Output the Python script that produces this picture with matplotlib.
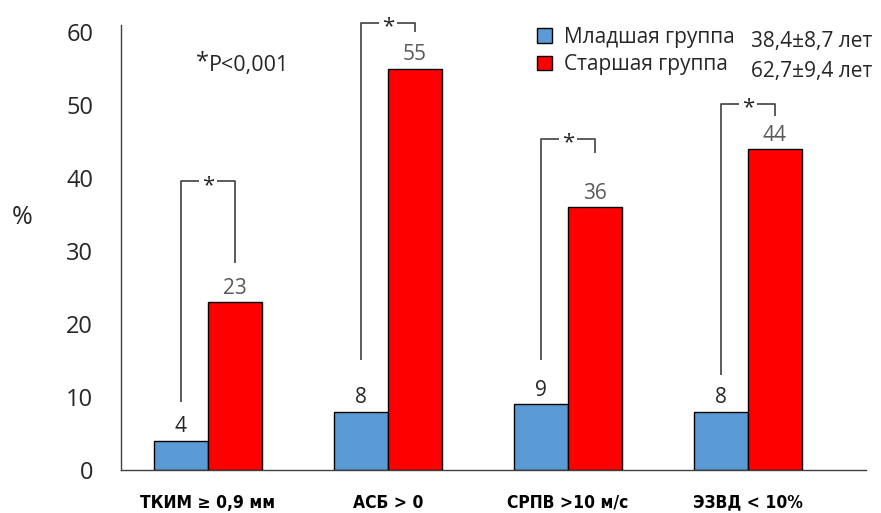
import matplotlib
matplotlib.use("Agg")
import matplotlib.pyplot as plt
import numpy as np

categories = ["ТКИМ ≥ 0,9 мм", "АСБ > 0", "СРПВ >10 м/с", "ЭЗВД < 10%"]
young = [4, 8, 9, 8]
old = [23, 55, 36, 44]
series_names = ["Младшая группа", "Старшая группа"]
ages = ["38,4±8,7 лет", "62,7±9,4 лет"]
yticks = [0, 10, 20, 30, 40, 50, 60]

# significance brackets (annotation layout, in data units)
br_left_bottom = [9.3, 15.1, 15.1, 13.0]
br_top = [39.6, 61.3, 45.4, 50.2]
br_right_bottom = [28.4, 60.0, 43.5, 48.5]

plt.rcParams['font.family'] = ['Open Sans', 'DejaVu Sans']

W, H = 881, 513
fig = plt.figure(figsize=(W / 100, H / 100), dpi=100)
ax = fig.add_axes([121 / W, 1 - 470 / H, (866 - 121) / W, (470 - 25) / H])

x = np.arange(len(categories))
w = 0.3
blue = "#5B9BD5"
red = "#FF0000"
b1 = ax.bar(x - w / 2, young, w, color=blue, edgecolor="black", linewidth=1.0, label=series_names[0])
b2 = ax.bar(x + w / 2, old, w, color=red, edgecolor="black", linewidth=1.0, label=series_names[1])

ax.set_xlim(-0.483, 3.656)
ax.set_ylim(0, 61)

for xi, v in zip(x - w / 2, young):
    ax.annotate(str(v), (xi, v), xytext=(0, 6), textcoords="offset points",
                ha="center", va="baseline", fontsize=15, color="#262626")
for xi, v in zip(x + w / 2, old):
    ax.annotate(str(v), (xi, v), xytext=(0, 6), textcoords="offset points",
                ha="center", va="baseline", fontsize=15, color="#595959")

# brackets
lc = "#404040"
gap = 0.05
for i in range(len(categories)):
    xl = x[i] - w / 2
    xr = x[i] + w / 2
    xm = (xl + xr) / 2
    ax.plot([xl, xl, xm - gap], [br_left_bottom[i], br_top[i], br_top[i]],
            color=lc, lw=1.2, clip_on=False, solid_capstyle="butt")
    ax.plot([xm + gap, xr, xr], [br_top[i], br_top[i], br_right_bottom[i]],
            color=lc, lw=1.2, clip_on=False, solid_capstyle="butt")
    ax.annotate("*", (xm, br_top[i]), xytext=(0, -3), textcoords="offset points",
                ha="center", va="center", fontsize=16, color="#262626",
                annotation_clip=False)

ax.set_xticks(x)
ax.set_xticklabels(categories, fontweight="bold", fontsize=12.5,
                   family=['DejaVu Sans'], fontstretch="condensed")
ax.set_yticks(yticks)
ax.set_yticklabels([str(t) for t in yticks], fontsize=17, color="#262626")
ax.tick_params(axis="both", length=0)
ax.tick_params(axis="y", pad=20)
ax.tick_params(axis="x", pad=17)

for s in ["top", "right"]:
    ax.spines[s].set_visible(False)
ax.spines["left"].set_color("#404040")
ax.spines["bottom"].set_color("#404040")
ax.spines["left"].set_linewidth(1.0)
ax.spines["bottom"].set_linewidth(1.0)

fig.text(22 / W, 1 - 218 / H, "%", fontsize=18, ha="center", va="center", color="#262626")
fig.text(202 / W, 1 - 62 / H, "*", fontsize=17, ha="center", va="center", color="#262626")
fig.text(209 / W, 1 - 66 / H, "P<0,001", fontsize=15.5, ha="left", va="center", color="#262626")

leg = ax.legend(handles=[b1, b2], labels=series_names, loc="upper left",
                bbox_to_anchor=(537 / W, 1 - 27 / H), bbox_transform=fig.transFigure,
                frameon=False, fontsize=15, handlelength=0.7, handleheight=0.7,
                handletextpad=0.6, labelspacing=0.3, borderaxespad=0, borderpad=0)
for t in leg.get_texts():
    t.set_color("#262626")
fig.text(751 / W, 1 - 42 / H, ages[0], fontsize=15, ha="left", va="center", color="#262626")
fig.text(751 / W, 1 - 72 / H, ages[1], fontsize=15, ha="left", va="center", color="#262626")

fig.savefig("out.png", dpi=100)
